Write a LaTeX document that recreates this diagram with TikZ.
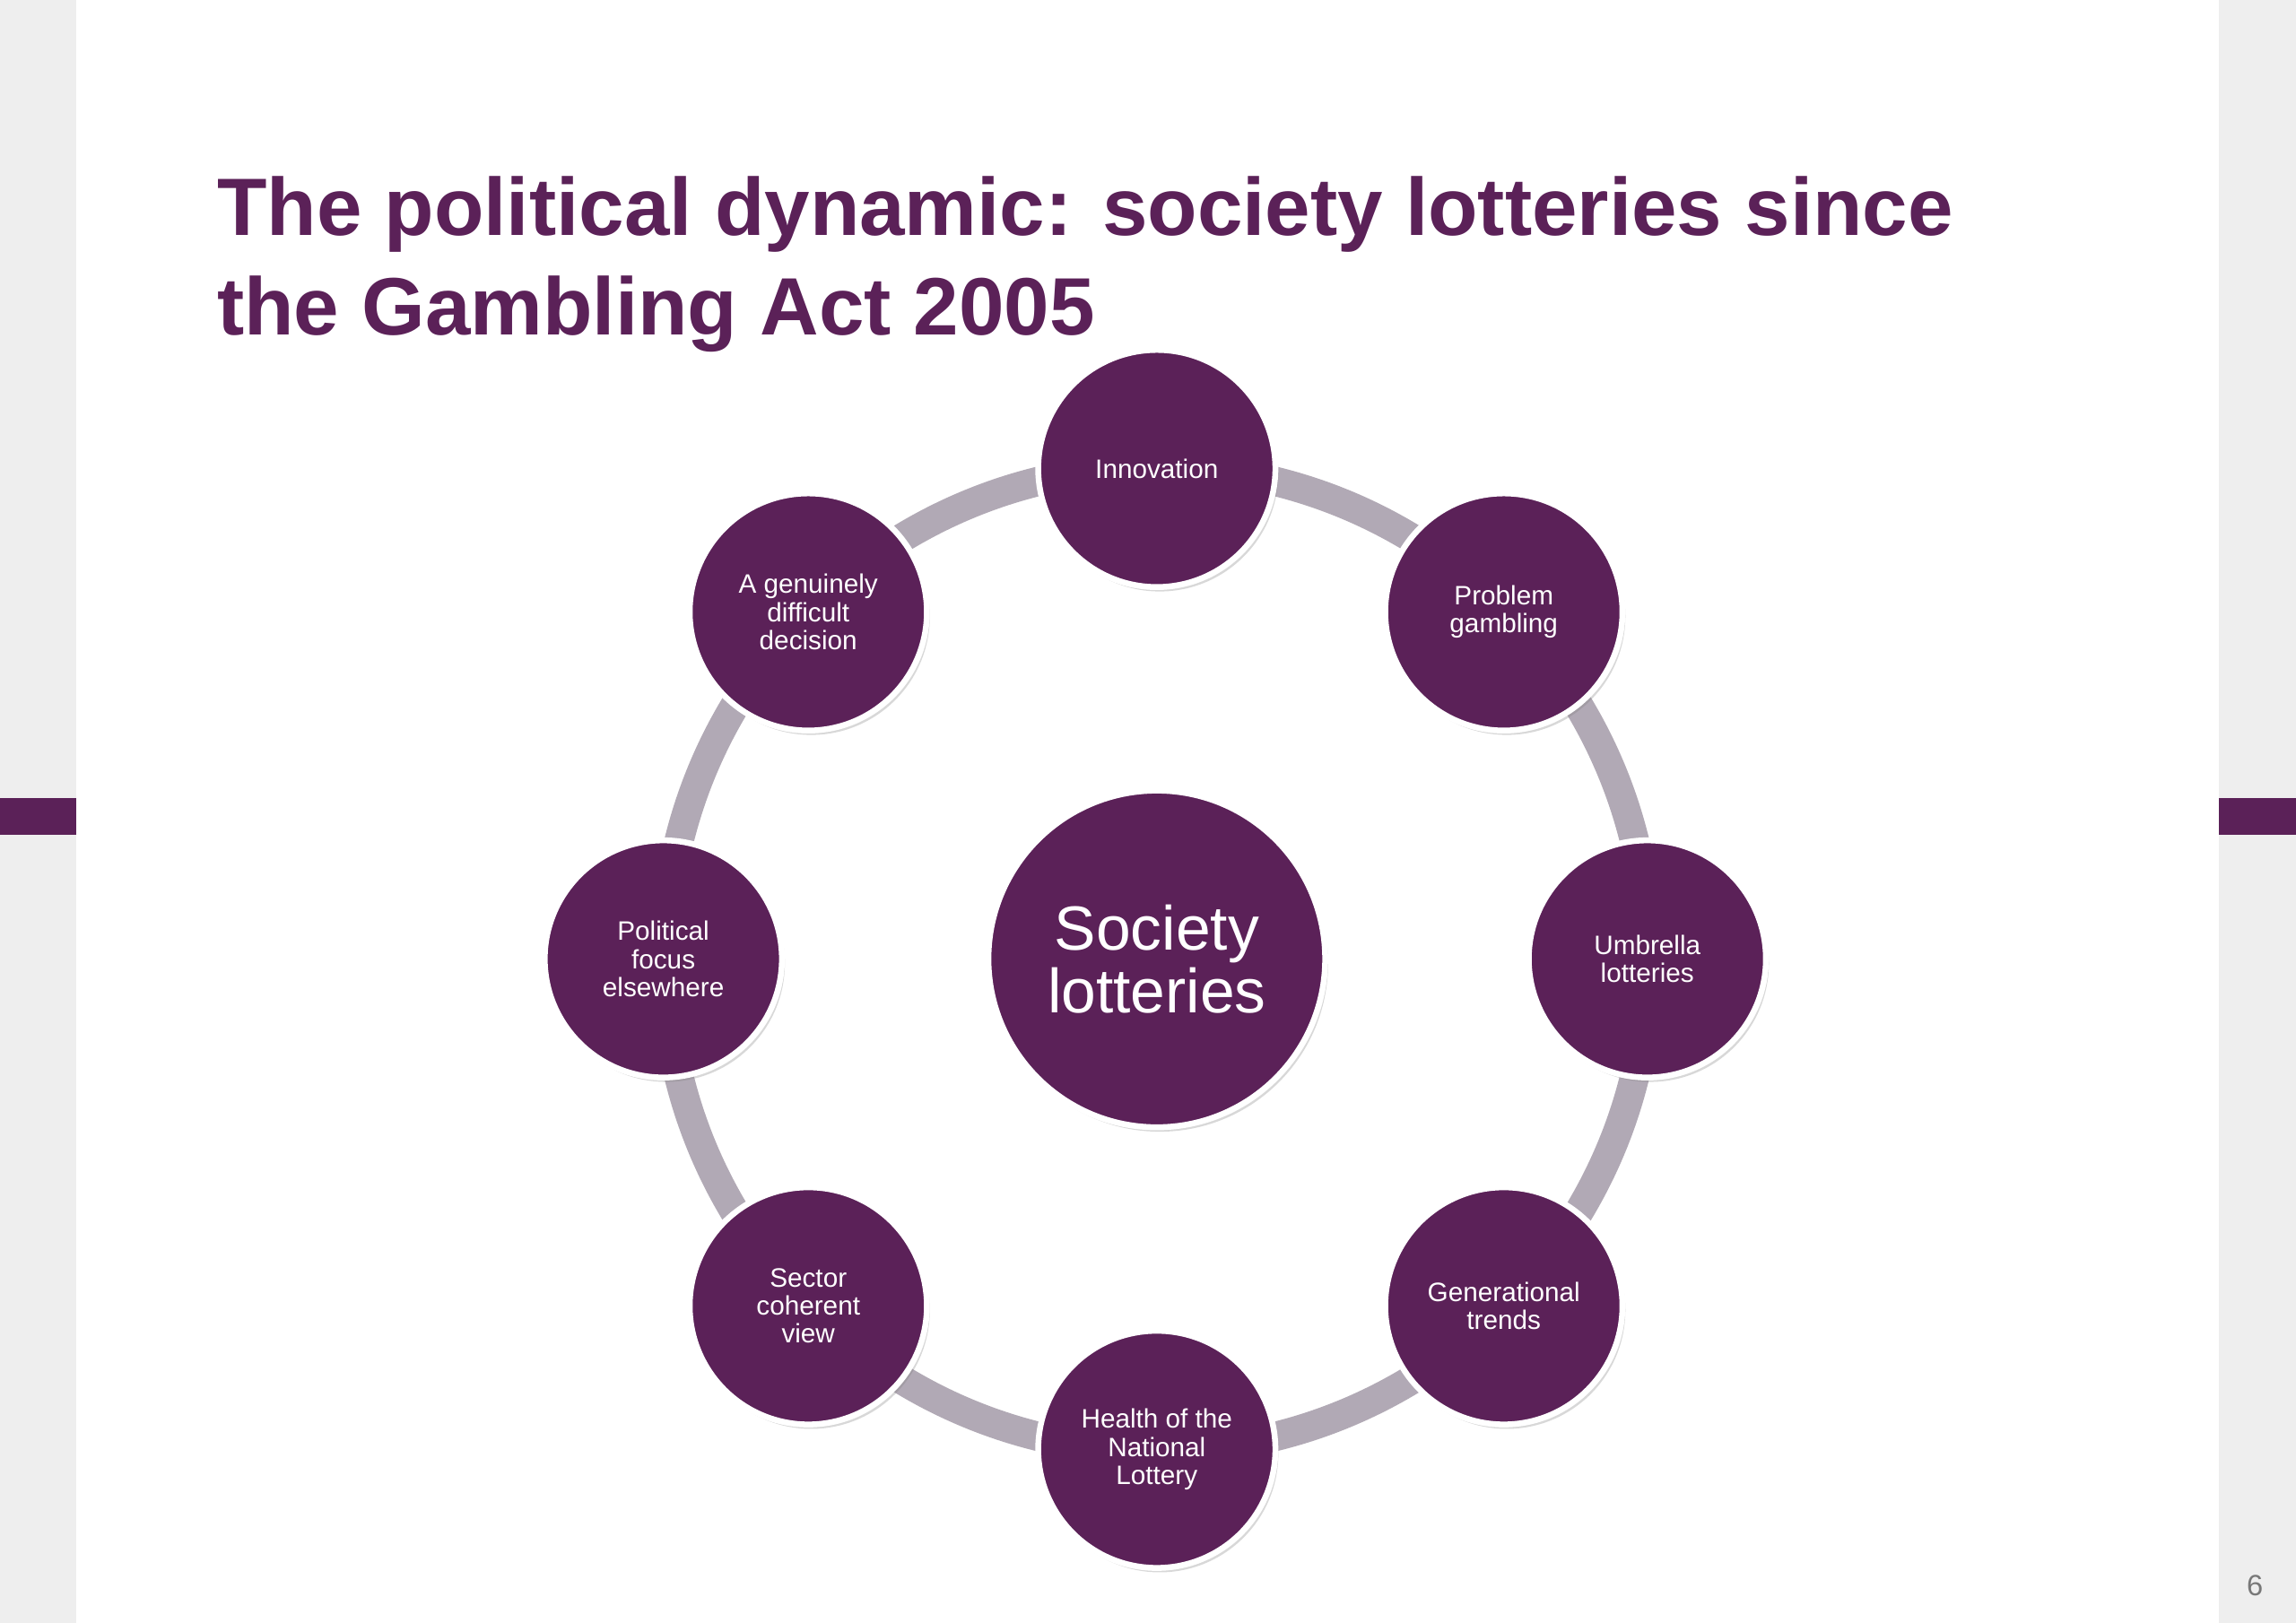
\documentclass[tikz,border=0pt]{standalone}
\usepackage{fontspec}
\setmainfont{Liberation Sans}
\usetikzlibrary{shadows}
\definecolor{plum}{RGB}{91,33,88}
\definecolor{ringgrey}{RGB}{177,169,181}
\definecolor{bandgrey}{RGB}{238,238,238}
\definecolor{pagegrey}{RGB}{120,120,120}
\begin{document}
\begin{tikzpicture}[x=0.5pt,y=-0.5pt,
  topic/.style={circle,fill=plum,draw=white,line width=2pt,minimum size=81pt,inner sep=0pt,
    text=white,align=center,font=\fontsize{9.1}{9.6}\selectfont,
    drop shadow={opacity=0.3,shadow xshift=1pt,shadow yshift=-1.5pt}},
  hub/.style={topic,minimum size=115pt,font=\fontsize{21.3}{21.5}\selectfont}]
\useasboundingbox (0,0) rectangle (1568,1108.6);
\fill[white] (0,0) rectangle (1568,1108.6);
\fill[bandgrey] (0,0) rectangle (52,1108.6);
\fill[bandgrey] (1515,0) rectangle (1568,1108.6);
\fill[plum] (0,545) rectangle (52,570);
\fill[plum] (1515,545) rectangle (1568,570);
\node[anchor=north west,inner sep=0pt,align=left,text=plum,font=\fontsize{27.8}{34}\selectfont\bfseries] (title) at (148,120)
  {The political dynamic: society lotteries since\\the Gambling Act 2005};
\node[hub] (hub) at (790,655) {Society\\lotteries};
\draw[ringgrey,line width=10pt] (hub.center) circle (336);
\node[topic] (innov) at (790,320) {Innovation};
\node[topic] (problem) at (1027,418) {Problem\\gambling};
\node[topic] (umbrella) at (1125,655) {Umbrella\\lotteries};
\node[topic] (trends) at (1027,892) {Generational\\trends};
\node[topic] (health) at (790,990) {Health of the\\National\\Lottery};
\node[topic] (sector) at (552,892) {Sector\\coherent\\view};
\node[topic] (focus) at (453,655) {Political\\focus\\elsewhere};
\node[topic] (decision) at (552,418) {A genuinely\\difficult\\decision};
\node[text=pagegrey,font=\fontsize{10}{12}\selectfont] (pagenum) at (1540,1083) {6};
\end{tikzpicture}
\end{document}
